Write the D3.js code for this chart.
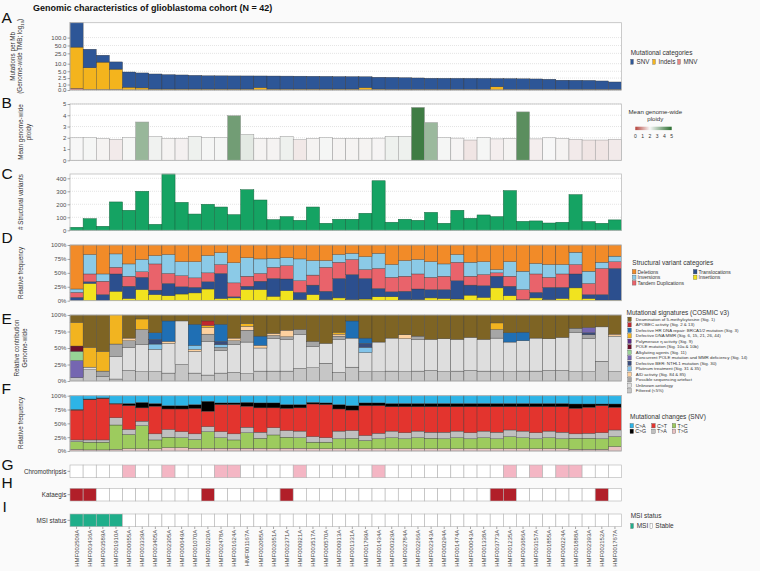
<!DOCTYPE html>
<html><head><meta charset="utf-8">
<script src="https://cdn.jsdelivr.net/npm/d3@7"></script>
<style>
body{margin:0;background:#fafafa;}
svg{display:block;font-family:"Liberation Sans",Arial,Helvetica,sans-serif;}
</style></head><body>
<svg id="c" width="760" height="571"></svg>
<script>
// ---------------- DATA ----------------
const samples = ["HMF002509A","HMF003436A","HMF003589A","HMF001910A","HMF000655A","HMF003339A","HMF003405A","HMF002305A","HMF000649A","HMF001070A","HMF001020A","HMF002478A","HMF001624A","HMF001167A","HMF002085A","HMF002651A","HMF002371A","HMF000921A","HMF003517A","HMF000570A","HMF000913A","HMF001331A","HMF001799A","HMF001434A","HMF000329A","HMF002784A","HMF002266A","HMF002343A","HMF000294A","HMF001474A","HMF000043A","HMF001338A","HMF003773A","HMF001235A","HMF003686A","HMF003157A","HMF001855A","HMF000224A","HMF001888A","HMF002393A","HMF002152A","HMF001767A"];

// A: mutations per Mb
const tmbSNV = [326.7,29.1,9.7,5.6,4.16,3.88,3.67,3.43,3.31,3.19,3.03,3.01,2.99,2.98,2.72,2.95,2.93,2.91,2.88,2.85,2.78,2.76,2.48,2.58,2.58,2.48,2.39,2.32,2.31,2.30,2.29,2.28,1.81,2.22,2.18,2.14,2.07,1.83,1.81,1.78,1.64,1.41];
const tmbIndel = [43,6.8,11.4,6.0,0.48,0.35,0.15,0.15,0.15,0.15,0.15,0.15,0.15,0.15,0.4,0.15,0.15,0.15,0.15,0.15,0.15,0.15,0.4,0.15,0.12,0.12,0.12,0.12,0.12,0.12,0.12,0.12,0.55,0.12,0.1,0.1,0.1,0.1,0.1,0.1,0.1,0.1];
const tmbMNV = [0.3,0.1,0.1,0.1,0.02,0.02,0.02,0.02,0.02,0.02,0.02,0.02,0.02,0.02,0.02,0.02,0.02,0.02,0.02,0.02,0.02,0.02,0.02,0.02,0.02,0.02,0.02,0.02,0.02,0.02,0.02,0.02,0.02,0.02,0.02,0.02,0.02,0.02,0.02,0.02,0.02,0.02];
const tmbTicks = [0,1,2.5,5,10,25,50,100];

// B: ploidy
const ploidy = [2.0,2.03,1.95,1.86,2.03,3.4,2.1,1.95,1.92,2.13,2.03,2.03,3.96,2.3,1.95,1.95,2.13,1.83,1.95,2.03,1.95,1.95,1.95,1.97,2.13,2.13,4.7,3.35,2.03,1.97,1.8,2.03,1.9,1.95,4.3,1.9,2.0,1.95,1.86,1.8,1.8,1.86];

// C: structural variants
const svCount = [23,89,31,218,154,300,46,433,215,125,200,179,120,312,233,82,105,77,179,54,85,85,131,381,62,85,77,138,54,154,92,118,105,305,69,72,56,62,274,67,54,80];

// D: SV categories (%)
const svIns = [0,31,0,17,4,20,11,9,12,14,21,4,5,20,20,8,18,2,11,2,5,2,3,7,7,2,2,5,4,3,10,6,23,9,1,5,2,4,23,4,1,1];
const svTra = [6,3,11,31,22,22,8,22,13,10,13,45,2,6,15,32,21,13,17,15,35,45,37,15,9,15,19,15,16,33,18,21,21,17,1,10,22,20,25,7,10,57];
const svTD  = [9,14,24,12,18,10,47,18,20,17,16,16,25,18,14,20,24,21,18,43,29,27,16,36,26,27,27,22,24,33,16,20,6,18,18,33,18,24,17,20,47,12];
const svInv = [6,35,13,24,22,22,15,34,25,29,31,21,36,33,26,16,14,39,26,12,14,11,23,27,23,28,26,28,22,14,25,23,6,26,33,19,23,17,22,22,11,10];
const svDel = [79,17,52,16,34,26,19,17,30,30,19,14,32,23,25,24,23,25,28,28,17,15,21,15,35,28,26,30,34,17,31,30,44,30,47,33,35,35,13,47,31,20];

// E: mutational signatures (% of SNVs)
const sigFiltered = [5,17,7,3,16,14,14,12,25,12,9,12,13,11,15,15,15,19,20,27,13,21,14,14,15,14,15,16,14,15,16,15,15,14,15,15,16,16,14,14,30,14];
const sigUnknown  = [0,4,0,34,35,41,34,45,66,33,51,34,42,48,35,49,48,51,32,30,50,44,29,45,50,50,48,47,50,48,50,48,50,45,46,50,48,50,60,50,52,54];
const sigArtefact = [0,0,8,19,10,23,0,0,0,0,11,5,6,18,0,5,4,8,8,0,5,0,0,0,0,0,5,0,0,0,0,0,13,0,0,0,0,0,6,6,0,0];
const sigAID      = [0,0,0,0,4,0,0,3,0,3,10,0,4,6,4,3,10,0,0,0,3,0,0,0,0,6,0,0,0,0,0,0,0,0,0,0,0,0,0,0,0,3];
const sigPlatinum = [0,0,0,0,0,0,8,0,0,6,0,4,0,0,0,0,0,0,0,0,0,0,8,0,0,0,0,0,0,0,0,0,0,0,0,0,0,0,0,0,0,0];
const sigBER      = [0,0,0,0,0,0,7,0,0,0,0,5,0,0,0,0,0,0,0,0,0,0,6,0,0,0,0,0,0,0,0,0,0,0,0,0,0,0,0,3,0,0];
const sigSig14    = [26,0,0,0,0,0,0,0,0,0,0,0,0,0,0,0,0,0,0,0,0,0,0,0,0,0,0,0,0,0,0,0,0,0,0,0,0,0,0,8,0,0];
const sigAlkyl    = [14,0,0,0,0,0,0,0,0,0,0,0,0,0,0,0,0,0,0,0,0,0,0,0,0,0,0,0,0,0,0,0,0,0,0,0,0,0,0,0,0,0];
const sigPOLE     = [8,0,0,0,0,0,0,0,0,0,0,0,0,0,0,0,0,0,0,0,0,0,0,0,0,0,0,0,0,0,0,0,0,0,0,0,0,0,0,0,0,0];
const sigPolEta   = [0,0,0,0,0,0,0,0,0,0,0,0,0,0,0,0,0,0,0,0,0,0,0,0,0,0,0,0,0,0,0,0,0,0,0,0,0,0,0,0,0,0];
const sigMMR      = [36,30,30,44,0,16,0,0,0,0,3,0,0,4,0,0,0,0,0,0,3,0,0,0,0,0,0,0,0,0,0,0,10,0,0,0,0,0,0,0,0,0];
const sigHR       = [0,0,0,0,0,0,10,31,0,32,0,26,0,0,14,0,0,0,0,0,0,26,8,0,0,0,0,0,0,0,0,0,0,14,13,0,0,0,0,0,0,0];
const sigAPOBEC   = [0,0,0,0,0,0,0,0,0,0,7,0,0,0,0,0,0,0,0,0,0,0,0,0,0,0,0,0,0,0,0,0,0,0,0,0,0,0,0,0,0,0];
const sigDeam     = [11,49,55,0,35,6,27,9,9,14,9,14,35,13,32,28,23,22,40,43,26,9,35,41,35,30,32,37,36,37,34,37,12,27,26,35,36,34,20,19,18,29];

// F: SNV changes (%)
const chTG = [3,2,2,3,4,4,4,6,6,5,5,5,5,5,5,4,5,5,4,4,4,4,4,4,4,4,4,4,4,4,4,4,4,4,4,4,4,4,3,3,3,8];
const chTC = [14,14,14,44,26,42,16,19,18,16,30,19,15,28,18,25,20,19,12,12,18,19,15,18,20,18,20,19,18,20,18,20,18,22,20,18,20,18,20,20,19,18];
const chTA = [3,4,4,13,9,8,11,14,11,10,9,11,11,10,11,13,12,12,10,8,14,14,9,10,12,11,12,11,12,12,11,12,12,12,12,11,12,12,8,9,11,12];
const chCT = [54,73,75,25,43,24,50,37,41,46,28,49,53,38,44,36,40,42,59,60,40,37,54,50,44,47,44,46,46,44,47,44,46,42,44,47,44,46,46,47,49,41];
const chCG = [1,1,1,1,4,10,5,6,6,7,18,3,3,7,9,9,7,6,3,3,8,8,5,5,6,6,6,6,6,6,6,6,6,6,6,6,6,6,8,6,3,6];
const chCA = [25,6,4,14,14,12,14,18,18,16,10,13,13,12,13,13,16,16,12,13,16,18,13,13,14,14,14,14,14,14,14,14,14,14,14,14,14,14,15,15,15,15];

// G-I
const chromothripsis = [0,0,0,0,1,0,0,1,0,0,0,1,1,0,0,0,0,1,0,0,0,0,0,1,0,0,0,0,0,0,0,0,0,1,0,1,0,1,1,0,0,0];
const kataegis       = [1,1,0,0,0,0,0,0,0,0,1,0,0,0,0,0,1,0,0,0,0,0,0,0,0,0,0,0,0,0,0,0,1,1,0,0,0,0,0,0,1,0];
const msi            = [1,1,1,1,0,0,0,0,0,0,0,0,0,0,0,0,0,0,0,0,0,0,0,0,0,0,0,0,0,0,0,0,0,0,0,0,0,0,0,0,0,0];

// ---------------- DRAW ----------------
const svg = d3.select("#c");
svg.append("rect").attr("width",760).attr("height",571).attr("fill","#fafafa");
const X0 = 70, X1 = 621.5;
const x = d3.scaleBand().domain(samples).range([X0, X1]).padding(0);
const TXT = "#4d4d4d";

function frame(top, bottom){
  svg.append("rect").attr("x",X0).attr("y",top).attr("width",X1-X0).attr("height",bottom-top)
    .attr("fill","#ffffff").attr("stroke","none");
}
function border(top,bottom){
  svg.append("rect").attr("x",X0).attr("y",top).attr("width",X1-X0).attr("height",bottom-top)
    .attr("fill","none").attr("stroke","#bdbdbd").attr("stroke-width",0.8);
}
function grid(scale, vals){
  svg.append("g").selectAll("line").data(vals).join("line")
    .attr("x1",X0).attr("x2",X1).attr("y1",d=>scale(d)).attr("y2",d=>scale(d))
    .attr("stroke","#c8c8c8").attr("stroke-width",0.5).attr("stroke-dasharray","1,1");
}
function yaxis(scale, vals, fmt){
  const g = svg.append("g").attr("transform",`translate(${X0},0)`)
    .call(d3.axisLeft(scale).tickValues(vals).tickFormat(fmt).tickSize(2.5).tickPadding(1.2));
  g.select(".domain").remove();
  g.selectAll(".tick line").attr("stroke","#555").attr("stroke-width",0.5);
  g.selectAll(".tick text").attr("font-size",6).attr("fill",TXT).attr("font-family","Liberation Sans, Arial, sans-serif");
}
function ytitle(lines, cx, cy, size){
  lines.forEach((ln,i)=>{
    const t = svg.append("text").attr("transform",`translate(${ln.x},${cy}) rotate(-90)`)
      .attr("text-anchor","middle").attr("font-size",size||6.3).attr("fill","#333");
    if (typeof ln.t === "string") t.text(ln.t);
    else ln.t(t);
  });
}
function letter(l, xx, yy){
  svg.append("text").attr("x",xx).attr("y",yy).attr("font-size",15.5).attr("fill","#111").text(l);
}

// Title
svg.append("text").attr("x",33).attr("y",11).attr("font-size",9).attr("font-weight","bold").attr("fill","#111")
  .text("Genomic characteristics of glioblastoma cohort (N = 42)");

// ---- Panel A ----
const tA = v => Math.asinh(v/2)/Math.LN10;
const rowsA = samples.map((s,i)=>({s, mnv:tmbMNV[i], indels:tmbIndel[i], snv:tmbSNV[i]}));
const stA = d3.stack().keys(["mnv","indels","snv"])(rowsA);
const maxA = d3.max(rowsA, d=>d.mnv+d.indels+d.snv);
const yA = d3.scaleLinear().domain([0, tA(maxA)]).range([90, 22.7]);
const colA = {snv:"#2d5697", indels:"#f4b41d", mnv:"#e98580"};
frame(22.7,90);
grid(yA, tmbTicks.map(tA));
stA.forEach(layer=>{
  svg.append("g").selectAll("rect").data(layer).join("rect")
    .attr("x",d=>x(d.data.s)).attr("width",x.bandwidth())
    .attr("y",d=>yA(tA(d[1]))).attr("height",d=>yA(tA(d[0]))-yA(tA(d[1])))
    .attr("fill",colA[layer.key]).attr("stroke","#333").attr("stroke-width",0.35);
});
border(22.7,90);
yaxis(yA, tmbTicks.map(tA), (d,i)=>d3.format(".1f")(tmbTicks[i]));
ytitle([{x:15,t:"Mutations per Mb"},{x:22.3,t:(t)=>{t.append("tspan").text("(Genome-wide TMB; log");t.append("tspan").attr("font-size",4.2).attr("dy",1.5).text("10");t.append("tspan").attr("dy",-1.5).text(")");}}],0,56.3);
letter("A",1.5,22.7);

// ---- Panel B ----
const yB = d3.scaleLinear().domain([0,5]).range([160.3,104]);
const colB = d3.scaleLinear().domain([0,2,5]).range(["#b5443d","#f7f7f7","#2b6e30"]);
frame(104,160.3);
grid(yB,[0,1,2,3,4,5]);
svg.append("g").selectAll("rect").data(samples).join("rect")
  .attr("x",d=>x(d)).attr("width",x.bandwidth())
  .attr("y",(d,i)=>yB(ploidy[i])).attr("height",(d,i)=>yB(0)-yB(ploidy[i]))
  .attr("fill",(d,i)=>colB(ploidy[i])).attr("stroke","#9a9a9a").attr("stroke-width",0.5);
border(104,160.3);
yaxis(yB,[0,1,2,3,4,5],d3.format("d"));
ytitle([{x:23,t:"Mean genome-wide"},{x:30.5,t:"ploidy"}],0,132);
letter("B",1.5,108);

// ---- Panel C ----
const yC = d3.scaleLinear().domain([0,d3.max(svCount)]).range([230.3,174]);
frame(174,230.3);
grid(yC,[0,100,200,300,400]);
svg.append("g").selectAll("rect").data(samples).join("rect")
  .attr("x",d=>x(d)).attr("width",x.bandwidth())
  .attr("y",(d,i)=>yC(svCount[i])).attr("height",(d,i)=>yC(0)-yC(svCount[i]))
  .attr("fill","#15a363").attr("stroke","#17663f").attr("stroke-width",0.5);
border(174,230.3);
yaxis(yC,[0,100,200,300,400],d3.format("d"));
ytitle([{x:23,t:"# Structural variants"}],0,202);
letter("C",1.5,179);

// generic stacked percentage panel
function stackPanel(top,bottom,keys,series,colors){
  const rows = samples.map((s,i)=>{const o={s}; keys.forEach((k,j)=>o[k]=series[j][i]); return o;});
  const st = d3.stack().keys(keys).offset(d3.stackOffsetExpand)(rows);
  const y = d3.scaleLinear().domain([0,1]).range([bottom,top]);
  frame(top,bottom);
  st.forEach((layer,j)=>{
    svg.append("g").selectAll("rect").data(layer.filter(d=>d[1]-d[0]>0)).join("rect")
      .attr("x",d=>x(d.data.s)).attr("width",x.bandwidth())
      .attr("y",d=>y(d[1])).attr("height",d=>y(d[0])-y(d[1]))
      .attr("fill",colors[j]).attr("stroke","#3a3a3a").attr("stroke-width",0.35);
  });
  border(top,bottom);
  yaxis(y,[0,0.25,0.5,0.75,1],d3.format(".0%"));
}

// ---- Panel D ----
const svKeys = ["Insertions","Translocations","Tandem Duplications","Inversions","Deletions"];
const svCols = ["#f1e31f","#2c4f8e","#e9636b","#8bcae7","#f28b28"];
stackPanel(245,300.7,svKeys,[svIns,svTra,svTD,svInv,svDel],svCols);
ytitle([{x:23,t:"Relative frequency"}],0,273);
letter("D",1.5,243);

// ---- Panel E ----
const sigNames = ["Deamination of 5-methylcytosine (Sig. 1)","APOBEC activity (Sig. 2 & 13)","Defective HR DNA repair: BRCA1/2 mutation (Sig. 3)","Defective DNA MMR (Sig. 6, 15, 21, 26, 44)","Polymerase η activity (Sig. 9)","POLE mutation (Sig. 10a & 10b)","Alkylating agents (Sig. 11)","Concurrent POLE mutation and MMR deficiency (Sig. 14)","Defective BER: NTHL1 mutation (Sig. 30)","Platinum treatment (Sig. 31 & 35)","AID activity (Sig. 84 & 85)","Possible sequencing artefact","Unknown aetiology","Filtered (<5%)"];
const sigCols = ["#7e6424","#c1272d","#1f6fb4","#f2b420","#5b2d86","#6b0f2b","#97d396","#7566b1","#3a4d7c","#82c4ea","#fdd19f","#a6a6a6","#dedede","#c6c6c6"];
const sigSeries = [sigDeam,sigAPOBEC,sigHR,sigMMR,sigPolEta,sigPOLE,sigAlkyl,sigSig14,sigBER,sigPlatinum,sigAID,sigArtefact,sigUnknown,sigFiltered];
stackPanel(315,381,sigNames.slice().reverse(),sigSeries.slice().reverse(),sigCols.slice().reverse());
ytitle([{x:19,t:"Relative contribution"},{x:27,t:"Genome-wide"}],0,348);
letter("E",1.5,324);

// ---- Panel F ----
const chNames = ["T>G","T>C","T>A","C>T","C>G","C>A"];
const chCols = ["#e9c3c3","#9dcb5e","#bfbfbf","#e3342e","#000000","#2db4e7"];
stackPanel(395.7,451,chNames,[chTG,chTC,chTA,chCT,chCG,chCA],chCols);
ytitle([{x:23,t:"Relative frequency"}],0,423);
letter("F",1.5,394);

// ---- Rows G, H, I ----
function rowPanel(top,bottom,vals,col,label){
  svg.append("g").selectAll("rect").data(samples).join("rect")
    .attr("x",d=>x(d)).attr("width",x.bandwidth()).attr("y",top).attr("height",bottom-top)
    .attr("fill",(d,i)=>vals[i]?col:"#ffffff").attr("stroke","#b3b3b3").attr("stroke-width",0.6);
  const yc=(top+bottom)/2;
  svg.append("line").attr("x1",X0-2.5).attr("x2",X0).attr("y1",yc).attr("y2",yc).attr("stroke","#555").attr("stroke-width",0.5);
  svg.append("text").attr("x",X0-3.7).attr("y",yc+2.2).attr("text-anchor","end").attr("font-size",6.3).attr("fill","#333").text(label);
}
rowPanel(465,477.7,chromothripsis,"#f4b6c4","Chromothripsis");
letter("G",1.5,470);
rowPanel(488.3,501,kataegis,"#b11f29","Kataegis");
letter("H",1.5,488.3);
rowPanel(514,526.7,msi,"#1fae8a","MSI status");
letter("I",2.5,512.3);

// x labels
const xa = svg.append("g").attr("transform","translate(0,526.7)")
  .call(d3.axisBottom(x).tickSize(2.3).tickPadding(2));
xa.select(".domain").remove();
xa.selectAll(".tick line").attr("stroke","#555").attr("stroke-width",0.5);
xa.selectAll(".tick text").attr("font-size",6).attr("fill",TXT).attr("font-family","Liberation Sans, Arial, sans-serif")
  .attr("text-anchor","end").attr("dy",null).attr("transform","rotate(-90)").attr("x",-3).attr("y",2.1);

// ---------------- LEGENDS ----------------
const LT = "#333";
function ltitle(t,xx,yy,size){svg.append("text").attr("x",xx).attr("y",yy).attr("font-size",size||6.5).attr("fill",LT).text(t);}
function litem(xx,yc,w,h,col,label,size,tx){
  svg.append("rect").attr("x",xx).attr("y",yc-h/2).attr("width",w).attr("height",h).attr("fill",col).attr("stroke","#444").attr("stroke-width",0.3);
  svg.append("text").attr("x",tx).attr("y",yc+size*0.36).attr("font-size",size).attr("fill",LT).text(label);
}
// A
ltitle("Mutational categories",630.7,54.5);
[["SNV",colA.snv,630.7],["Indels",colA.indels,652.7],["MNV",colA.mnv,677.7]].forEach(d=>litem(d[2],61.8,2.7,5,d[1],d[0],6.3,d[2]+5.8));
// B
svg.append("text").attr("x",655.3).attr("y",114).attr("text-anchor","middle").attr("font-size",6.1).attr("fill",LT).text("Mean genome-wide");
svg.append("text").attr("x",655.3).attr("y",121.3).attr("text-anchor","middle").attr("font-size",6.1).attr("fill",LT).text("ploidy");
const lgx = d3.scaleLinear().domain([0,5]).range([635.3,671.7]);
const defs = svg.append("defs");
const grad = defs.append("linearGradient").attr("id","pg");
d3.range(0,5.01,0.25).forEach(v=>grad.append("stop").attr("offset",(v/5*100)+"%").attr("stop-color",colB(v)));
svg.append("rect").attr("x",lgx(0)).attr("y",126.7).attr("width",lgx(5)-lgx(0)).attr("height",3.4).attr("fill","url(#pg)");
[0,1,2,3,4,5].forEach(v=>svg.append("text").attr("x",lgx(v)).attr("y",137.5).attr("text-anchor","middle").attr("font-size",5).attr("fill",LT).text(v));
// D
ltitle("Structural variant categories",632.3,264.5);
[["Deletions",svCols[4],632.3,271.7],["Inversions",svCols[3],632.3,277.3],["Tandem Duplications",svCols[2],632.3,282.9],
 ["Translocations",svCols[1],693.3,271.7],["Insertions",svCols[0],693.3,277.3]].forEach(d=>litem(d[2],d[3],3.7,4.4,d[1],d[0],5,d[2]+5.2));
// E
ltitle("Mutational signatures (COSMIC v3)",626.5,315.2);
sigNames.forEach((n,i)=>litem(627.8,319.3+i*5.5,3.5,4.4,sigCols[i],n,4.4,635.8));
// F
ltitle("Mutational changes (SNV)",630,419);
[["C>A",chCols[5],630,425.7],["C>G",chCols[4],630,431.3],["C>T",chCols[3],651.7,425.7],["T>A",chCols[2],651.7,431.3],["T>C",chCols[1],672.3,425.7],["T>G",chCols[0],672.3,431.3]]
  .forEach(d=>litem(d[2],d[3],3.5,4.4,d[1],d[0],5.3,d[2]+5.2));
// I
ltitle("MSI status",630.7,518.3);
litem(630.7,526,2.7,5,"#1fae8a","MSI",6.5,636.7);
litem(650,526,2.7,5,"#ffffff","Stable",6.5,655.3);
</script>
</body></html>
